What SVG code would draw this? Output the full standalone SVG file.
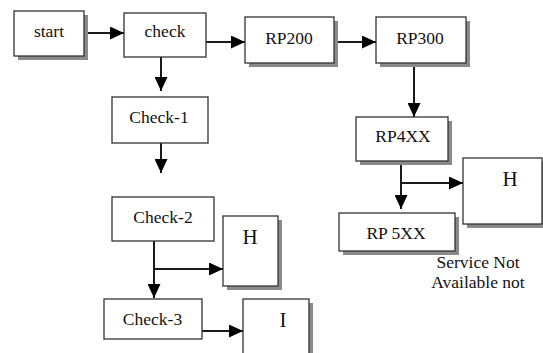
<svg xmlns="http://www.w3.org/2000/svg" width="543" height="353" viewBox="0 0 543 353">
<style>
.box{fill:#fff;stroke:#333;stroke-width:1.3}
.sh{fill:#8a8a8a}
.c{fill:none;stroke:#1a1a1a;stroke-width:2}
</style>
<defs>
<marker id="ah" markerUnits="userSpaceOnUse" markerWidth="14" markerHeight="13" refX="14" refY="6.5" orient="auto">
<path d="M0,0 L14,6.5 L0,13 z" fill="#000"/>
</marker>
</defs>
<rect width="543" height="353" fill="#fff"/>
<g id="connectors">
<line class="c" x1="84" y1="33" x2="124" y2="33" marker-end="url(#ah)"/>
<line class="c" x1="206" y1="42" x2="245" y2="42" marker-end="url(#ah)"/>
<line class="c" x1="334" y1="42" x2="376" y2="42" marker-end="url(#ah)"/>
<line class="c" x1="414" y1="63" x2="414" y2="117" marker-end="url(#ah)"/>
<line class="c" x1="161" y1="57" x2="161" y2="91" marker-end="url(#ah)"/>
<line class="c" x1="161" y1="143" x2="161" y2="173" marker-end="url(#ah)"/>
<line class="c" x1="154" y1="241" x2="154" y2="298" marker-end="url(#ah)"/>
<line class="c" x1="154" y1="269" x2="223" y2="269" marker-end="url(#ah)"/>
<line class="c" x1="200" y1="331" x2="243" y2="331" marker-end="url(#ah)"/>
<line class="c" x1="401" y1="161" x2="401" y2="209" marker-end="url(#ah)"/>
<line class="c" x1="401" y1="183" x2="463" y2="183" marker-end="url(#ah)"/>
</g>
<g font-family="Liberation Serif" font-size="17.5" fill="#111" text-anchor="middle">
<g id="start">
<rect class="sh" x="18" y="15" width="70" height="45"/>
<rect class="box" x="14" y="11" width="70" height="45"/>
<text x="49" y="37">start</text>
</g>
<g id="check">
<rect class="box" x="124" y="13" width="82" height="44"/>
<text x="165" y="37">check</text>
</g>
<g id="rp200">
<rect class="sh" x="249" y="21" width="89" height="46"/>
<rect class="box" x="245" y="17" width="89" height="46"/>
<text x="289" y="44">RP200</text>
</g>
<g id="rp300">
<rect class="sh" x="380" y="21" width="90" height="46"/>
<rect class="box" x="376" y="17" width="90" height="46"/>
<text x="420" y="44">RP300</text>
</g>
<g id="rp4xx">
<rect class="sh" x="360" y="121" width="92" height="44"/>
<rect class="box" x="356" y="117" width="92" height="44"/>
<text x="403" y="142">RP4XX</text>
</g>
<g id="h-right">
<rect class="sh" x="467" y="162" width="79" height="66"/>
<rect class="box" x="463" y="158" width="79" height="66"/>
<text x="510" y="186" font-size="21">H</text>
</g>
<g id="rp5xx">
<rect class="sh" x="343" y="217" width="116" height="38"/>
<rect class="box" x="339" y="213" width="116" height="38"/>
<text x="396" y="239">RP 5XX</text>
</g>
<g id="service-note">
<text x="478" y="268">Service Not</text>
<text x="478" y="288">Available not</text>
</g>
<g id="check-1">
<rect class="box" x="112" y="97" width="96" height="46"/>
<text x="159" y="122.5">Check-1</text>
</g>
<g id="check-2">
<rect class="box" x="112" y="197" width="102" height="44"/>
<text x="163" y="223">Check-2</text>
</g>
<g id="h-left">
<rect class="sh" x="227" y="220" width="55" height="70"/>
<rect class="box" x="223" y="216" width="55" height="70"/>
<text x="250" y="244" font-size="21">H</text>
</g>
<g id="check-3">
<rect class="box" x="104" y="299" width="98" height="40"/>
<text x="152.5" y="325">Check-3</text>
</g>
<g id="i">
<rect class="sh" x="247" y="303" width="66" height="60"/>
<rect class="box" x="243" y="299" width="66" height="60"/>
<text x="283" y="327" font-size="21">I</text>
</g>
</g>
</svg>
